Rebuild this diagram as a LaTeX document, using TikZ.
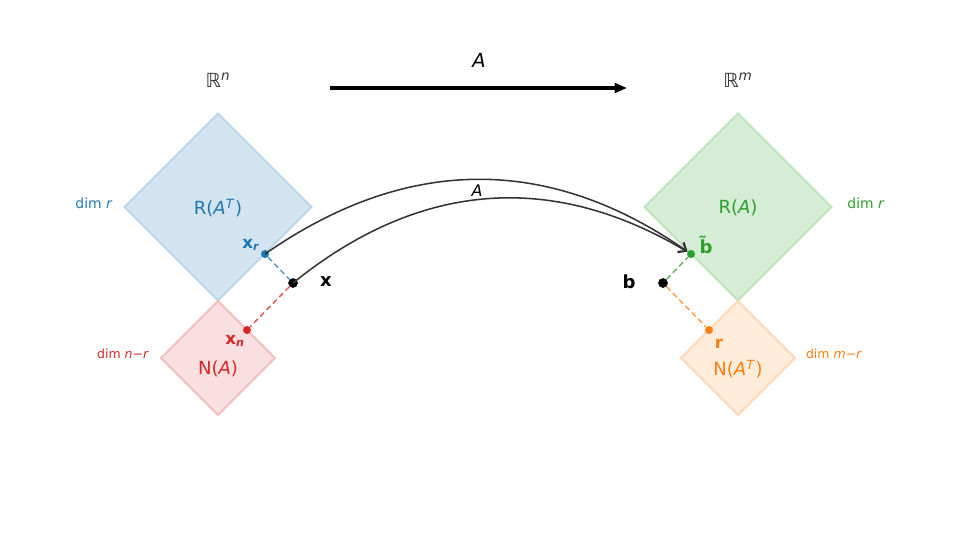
\documentclass[tikz,border=0pt]{standalone}
\usepackage{fontspec}
\setmainfont{DejaVu Sans}
\usetikzlibrary{arrows.meta, positioning}
\definecolor{tabblue}{HTML}{1F77B4}
\definecolor{taborange}{HTML}{FF7F0E}
\definecolor{tabgreen}{HTML}{2CA02C}
\definecolor{tabred}{HTML}{D62728}
\newcommand{\fs}[1]{\fontsize{#1}{#1}\selectfont}

\begin{document}
\begin{tikzpicture}[x=0.72pt,y=-0.72pt,
  space/.style={draw=#1!30, line width=1.4pt, line join=miter},
  dot/.style={circle, fill=#1, inner sep=0pt, minimum size=5.8pt},
  proj/.style={#1, line width=1.1pt, dash pattern=on 4pt off 2.5pt},
  maparrow/.style={-{Straight Barb[length=5pt,width=8pt]}, line width=1.1pt, black!80},
  ptlabel/.style={font=\fs{13}\bfseries, inner sep=1pt}]
  \useasboundingbox (0,0) rectangle (956,540);
  \foreach \cx/\cy/\h/\col/\pct in {218/207/93.5/tabblue/20, 218/358/57/tabred/15,
                                    738/207/93.5/tabgreen/20, 738/358/57/taborange/15}
    \draw[space=\col, fill=\col!\pct] (\cx,\cy-\h) -- (\cx+\h,\cy) -- (\cx,\cy+\h) -- (\cx-\h,\cy) -- cycle;

  \node[font=\fs{13}, text=tabblue] (rowsp) at (218,208) {R(\textit{A}\textsuperscript{\textit{T}})};
  \node[font=\fs{13}, text=tabred] (nullsp) at (218,369) {N(\textit{A})};
  \node[font=\fs{13}, text=tabgreen] (colsp) at (738,208) {R(\textit{A})};
  \node[font=\fs{13}, text=taborange] (lnullsp) at (738,369) {N(\textit{A}\textsuperscript{\textit{T}})};

  \node[font=\fs{14}, text=black!80] (rn) at (218,80) {ℝ\textsuperscript{\textit{n}}};
  \node[font=\fs{14}, text=black!80] (rm) at (738,80) {ℝ\textsuperscript{\textit{m}}};

  \node[font=\fs{10}, text=tabblue] (dimrow) at (94,203) {dim \textit{r}};
  \node[font=\fs{9}, text=tabred] (dimnull) at (123,354) {dim \textit{n}−\textit{r}};
  \node[font=\fs{10}, text=tabgreen] (dimcol) at (866,203) {dim \textit{r}};
  \node[font=\fs{9}, text=taborange] (dimlnull) at (834,354) {dim \textit{m}−\textit{r}};

  \coordinate (mapL) at (330,88);
  \coordinate (mapR) at (627,88);
  \draw[-{Triangle[length=9pt,width=7pt]}, line width=2.3pt] (mapL) -- (mapR);
  \node[font=\fs{14}] (amap) at (479,60) {\textit{A}};

  \node[dot=tabblue] (xr) at (265,254) {};
  \node[dot=black, minimum size=7pt] (x) at (293,283) {};
  \node[dot=tabred] (xn) at (247,330) {};
  \node[dot=black, minimum size=7pt] (b) at (663,283) {};
  \node[dot=tabgreen] (bt) at (691,254) {};
  \node[dot=taborange] (r) at (709,330) {};

  \draw[proj=tabblue!75] (xr) -- (x);
  \draw[proj=tabred!75] (x) -- (xn);
  \draw[proj=tabgreen!75] (b) -- (bt);
  \draw[proj=taborange!75] (b) -- (r);

  \draw[maparrow] (xr.center) .. controls (407,155) and (549,155) .. (bt);
  \draw[maparrow] (x.center) .. controls (419,181) and (552,171) .. (bt);
  \node[font=\fs{11.5}] (acurve) at (477,191) {\textit{A}};

  \node[ptlabel, font=\fs{12}\bfseries, text=tabblue] (xrlbl) at (251,245) {x\textsubscript{\textit{r}}};
  \node[ptlabel] (xlbl) at (326,282) {x};
  \node[ptlabel, font=\fs{12}\bfseries, text=tabred] (xnlbl) at (235,341) {x\textsubscript{\textit{n}}};
  \node[ptlabel] (blbl) at (629,282) {b};
  \node[ptlabel, text=tabgreen] (btlbl) at (706,245) {\~{b}};
  \node[ptlabel, font=\fs{12}\bfseries, text=taborange] (rlbl) at (719,344) {r};
\end{tikzpicture}
\end{document}
